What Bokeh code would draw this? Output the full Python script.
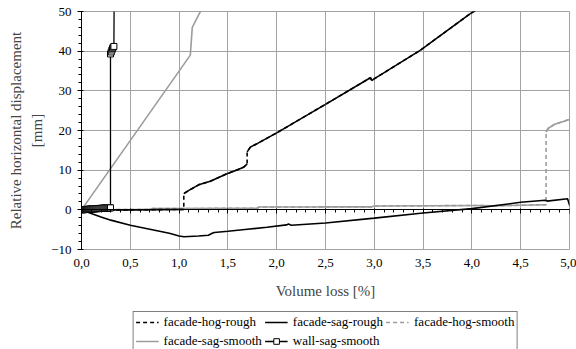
import numpy as np
from bokeh.plotting import figure
from bokeh.layouts import column
from bokeh.models import LinearAxis, FixedTicker, Legend, LegendItem, Range1d
from bokeh.embed import file_html
from bokeh.resources import INLINE

# ---- ticks ----
x_ticks = [0.0, 0.5, 1.0, 1.5, 2.0, 2.5, 3.0, 3.5, 4.0, 4.5, 5.0]
x_tick_labels = ["0,0", "0,5", "1,0", "1,5", "2,0", "2,5", "3,0", "3,5", "4,0", "4,5", "5,0"]
x_minor = [0.1, 0.2, 0.3, 0.4, 0.6, 0.7, 0.8, 0.9, 1.1, 1.2, 1.3, 1.4, 1.6, 1.7, 1.8, 1.9,
           2.1, 2.2, 2.3, 2.4, 2.6, 2.7, 2.8, 2.9, 3.1, 3.2, 3.3, 3.4, 3.6, 3.7, 3.8, 3.9,
           4.1, 4.2, 4.3, 4.4, 4.6, 4.7, 4.8, 4.9]
y_ticks = [-10, 0, 10, 20, 30, 40, 50]
y_minor = [-8, -6, -4, -2, 2, 4, 6, 8, 12, 14, 16, 18, 22, 24, 26, 28, 32, 34, 36, 38, 42, 44, 46, 48]

# ---- series ----
hog_rough_x = [0.0, 0.5, 1.048, 1.048, 1.1, 1.2, 1.32, 1.49, 1.6, 1.665, 1.697, 1.697, 1.73, 1.8,
               2.0, 2.5, 2.96, 2.975, 2.99, 3.47, 3.98, 4.15]
hog_rough_y = [0.0, 0.0, 0.1, 4.1, 4.9, 6.3, 7.2, 9.1, 10.1, 10.8, 11.6, 14.6, 15.8, 16.7,
               19.4, 26.6, 33.3, 32.6, 32.9, 40.2, 49.4, 52.0]

sag_rough_x = [0.0, 0.1, 0.2, 0.3, 0.5, 0.7, 0.9, 1.0, 1.05, 1.2, 1.3, 1.34, 1.36, 1.5, 1.7, 1.9,
               2.1, 2.12, 2.15, 2.5, 3.0, 3.5, 4.0, 4.5, 4.75, 4.77, 4.98, 5.0, 5.03]
sag_rough_y = [0.0, -0.9, -1.8, -2.6, -3.9, -4.9, -5.9, -6.6, -6.8, -6.6, -6.4, -5.9, -5.7, -5.4,
               -4.9, -4.4, -3.8, -3.6, -3.9, -3.3, -2.1, -0.8, 0.3, 1.9, 2.4, 2.2, 2.8, 1.2, 0.4]

hog_smooth_x = [0.0, 0.7, 0.72, 1.8, 1.82, 2.4, 2.42, 2.97, 3.0, 4.1, 4.2, 4.76, 4.76, 4.78, 4.85,
                5.0, 5.05]
hog_smooth_y = [0.0, 0.1, 0.3, 0.4, 0.7, 0.7, 0.75, 0.75, 0.95, 1.1, 1.0, 1.3, 19.6, 20.5, 21.6,
                22.8, 23.2]

sag_smooth_x = [0.0, 1.115, 1.135, 1.22, 1.3]
sag_smooth_y = [0.0, 39.0, 46.0, 50.1, 53.0]

wall_sag_x = [0.0, 0.01, 0.02, 0.03, 0.04, 0.05, 0.06, 0.07, 0.08, 0.09, 0.10, 0.11, 0.12, 0.13,
              0.14, 0.15, 0.16, 0.17, 0.18, 0.19, 0.20, 0.21, 0.22, 0.23, 0.24, 0.25, 0.26, 0.27,
              0.28, 0.29, 0.297, 0.297, 0.305, 0.312, 0.318, 0.325, 0.332, 0.335]
wall_sag_y = [0.0, 0.0, 0.05, 0.05, 0.1, 0.1, 0.1, 0.15, 0.15, 0.2, 0.2, 0.2, 0.25, 0.25,
              0.25, 0.3, 0.3, 0.3, 0.35, 0.35, 0.35, 0.4, 0.4, 0.4, 0.45, 0.45, 0.45, 0.5,
              0.5, 0.5, 0.5, 39.3, 39.8, 40.3, 40.7, 41.0, 41.2, 56.0]

SERIF = "Liberation Serif"
GREY = "#9c9c9c"
GRID = "#a3a3a3"

p = figure(width=576, height=304, output_backend="svg", toolbar_location=None,
           x_range=Range1d(0, 5), y_range=Range1d(-10, 50),
           min_border_left=81, min_border_right=7, min_border_top=11, min_border_bottom=55,
           background_fill_color="white", border_fill_color="white")
p.outline_line_color = GRID
p.outline_line_width = 1

# grid
p.xgrid.ticker = FixedTicker(ticks=x_ticks)
p.ygrid.ticker = FixedTicker(ticks=y_ticks)
p.xgrid.grid_line_color = GRID
p.ygrid.grid_line_color = GRID

# bottom axis (labels only)
xa = p.below[0]
xa.ticker = FixedTicker(ticks=x_ticks)
xa.major_label_overrides = {t: l for t, l in zip(x_ticks, x_tick_labels)}
xa.axis_line_color = None
xa.major_tick_line_color = None
xa.minor_tick_line_color = None
xa.major_tick_out = 0
xa.major_tick_in = 0
xa.major_label_standoff = 9
xa.major_label_text_font = SERIF
xa.major_label_text_font_size = "13px"
xa.major_label_text_color = "black"
xa.axis_label = "Volume loss [%]"
xa.axis_label_text_font = SERIF
xa.axis_label_text_font_size = "15px"
xa.axis_label_text_font_style = "normal"
xa.axis_label_standoff = 13

# zero axis with ticks
za = LinearAxis(fixed_location=0, ticker=FixedTicker(ticks=x_ticks, minor_ticks=x_minor),
                major_label_text_color=None, axis_line_color="black", axis_line_width=1,
                major_tick_in=1, major_tick_out=4, minor_tick_in=0, minor_tick_out=3,
                major_tick_line_color="black", minor_tick_line_color="black")
p.add_layout(za, "below")

# y axis
ya = p.left[0]
ya.ticker = FixedTicker(ticks=y_ticks, minor_ticks=y_minor)
ya.axis_line_color = "black"
ya.major_tick_out = 4
ya.major_tick_in = 2
ya.minor_tick_out = 3
ya.minor_tick_in = 0
ya.major_tick_line_color = "black"
ya.minor_tick_line_color = "black"
ya.major_label_standoff = 6
ya.major_label_text_font = SERIF
ya.major_label_text_font_size = "13px"
ya.major_label_text_color = "black"
ya.axis_label = "Relative horizontal displacement\n[mm]"
ya.axis_label_text_font = SERIF
ya.axis_label_text_font_size = "15px"
ya.axis_label_text_font_style = "normal"
ya.axis_label_text_line_height = 1.3
ya.axis_label_standoff = 3


def solid_parts(xs, ys):
    xs = np.asarray(xs, float)
    ys = np.asarray(ys, float)
    keep = np.diff(xs) > 0
    return xs[:-1][keep], ys[:-1][keep], xs[1:][keep], ys[1:][keep]


def draw_series(fig):
    r = {}
    r["sag_smooth"] = fig.line(sag_smooth_x, sag_smooth_y, line_color=GREY, line_width=1.6)
    r["hog_smooth"] = fig.line(hog_smooth_x, hog_smooth_y, line_color=GREY, line_width=1.6,
                               line_dash="4 3")
    x0, y0, x1, y1 = solid_parts(hog_smooth_x, hog_smooth_y)
    fig.segment(x0, y0, x1, y1, line_color=GREY, line_width=1.6)
    r["sag_rough"] = fig.line(sag_rough_x, sag_rough_y, line_color="black", line_width=1.6)
    r["hog_rough"] = fig.line(hog_rough_x, hog_rough_y, line_color="black", line_width=1.6,
                              line_dash="4 3")
    x0, y0, x1, y1 = solid_parts(hog_rough_x, hog_rough_y)
    fig.segment(x0, y0, x1, y1, line_color="black", line_width=1.6)
    r["wall_line"] = fig.line(wall_sag_x, wall_sag_y, line_color="black", line_width=1.3)
    r["wall_pts"] = fig.scatter(wall_sag_x, wall_sag_y, marker="square", size=6,
                                fill_color="white", line_color="black", line_width=1)
    return r


draw_series(p)

# ---- legend strip (separate canvas below the chart) ----
lg = figure(width=576, height=45, output_backend="svg", toolbar_location=None,
            x_range=Range1d(-20, -19), y_range=Range1d(-200, -199),
            x_axis_type=None, y_axis_type=None,
            min_border_left=81, min_border_right=7, min_border_top=0, min_border_bottom=0,
            background_fill_color="white", border_fill_color="white")
lg.outline_line_color = None
lr = draw_series(lg)

legend = Legend(items=[
    LegendItem(label="facade-hog-rough", renderers=[lr["hog_rough"]]),
    LegendItem(label="facade-sag-smooth", renderers=[lr["sag_smooth"]]),
    LegendItem(label="facade-sag-rough", renderers=[lr["sag_rough"]]),
    LegendItem(label="wall-sag-smooth", renderers=[lr["wall_line"], lr["wall_pts"]]),
    LegendItem(label="facade-hog-smooth", renderers=[lr["hog_smooth"]]),
], location="top_center", nrows=2)
legend.label_text_font = SERIF
legend.label_text_font_size = "13px"
legend.label_text_color = "black"
legend.glyph_width = 23
legend.glyph_height = 14
legend.label_height = 14
legend.label_standoff = 5
legend.padding = 2
legend.spacing = 3
legend.margin = 7
legend.border_line_color = "black"
legend.border_line_width = 1
legend.background_fill_color = "white"
legend.background_fill_alpha = 1
lg.add_layout(legend)

layout = column(p, lg, spacing=0)
open("out.html", "w").write(file_html(layout, INLINE))
